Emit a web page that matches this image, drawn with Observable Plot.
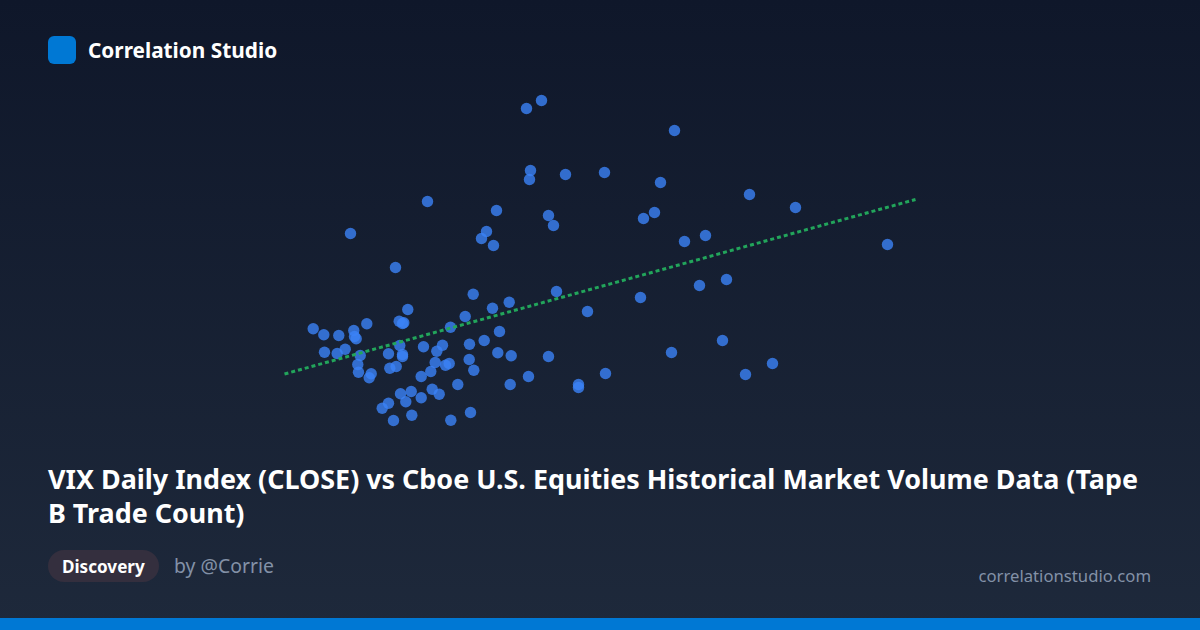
<!DOCTYPE html>
<html><head><meta charset="utf-8">
<script src="https://cdn.jsdelivr.net/npm/d3@7"></script>
<script src="https://cdn.jsdelivr.net/npm/@observablehq/plot@0.6"></script>
<style>
html,body{margin:0;padding:0;width:1200px;height:630px;overflow:hidden}
#card{position:relative;width:1200px;height:630px;background:linear-gradient(180deg,#0f172a 0%,#1e293b 100%);font-family:"Noto Sans",sans-serif;color:#fff}
#chart{position:absolute;left:0;top:0}
#chart svg{display:block;background:transparent}
#logo{position:absolute;left:48px;top:36px;width:28px;height:28px;border-radius:6px;background:#0078d4}
#brand{position:absolute;left:88px;top:36px;line-height:28px;font-size:20.8px;font-weight:700}
#title{position:absolute;left:48px;top:462px;width:1104px;font-size:26.9px;line-height:34px;font-weight:700;margin:0}
#tag{position:absolute;left:48px;top:550px;height:32px;line-height:33px;padding:0 14px;border-radius:16px;background:#342f3e;font-size:17.1px;font-weight:700}
#by{position:absolute;left:174px;top:550px;line-height:32px;font-size:19.4px;color:#8391a7}
#site{position:absolute;right:49px;top:561px;line-height:30px;font-size:16.7px;color:#8391a7}
#bar{position:absolute;left:0;bottom:0;width:1200px;height:12px;background:#0078d4}
</style></head><body>
<div id="card">
<div id="chart"></div>
<div id="logo"></div><div id="brand">Correlation Studio</div>
<h1 id="title">VIX Daily Index (CLOSE) vs Cboe U.S. Equities Historical Market Volume Data (Tape B Trade Count)</h1>
<div id="tag">Discovery</div><div id="by">by @Corrie</div><div id="site">correlationstudio.com</div>
<div id="bar"></div>
</div>
<script>
// Values, in its own units (no axis is shown in the reference)
const xValues = [526,541,674,530,529,565,604,660,427,496,548,553,643,654,749,795,350,486,481,493,684,705,887,395,699,726,640,556,587,
 472.7,508.7,492,407.3,464.7,366.3,312.7,398.7,403.3,402,450,323.3,338.3,353.3,354,355.7,499,483.7,469,442,399.3,423,436.3,324,344.7,336.7,359.7,388,402,402,497.3,510.7,468.7,434.7,448.7,445,357.3,395.7,389.3,473.3,430.3,358,370.7,368.7,420.7,509.7,457.3,431.7,438.7,410.7,400,420.7,405.3,388,381.7,411.3,470,393,450.3,
 528,548,578,578,605,671,722,745,772];
const yValues = [108,100,130,170,179,174,172,182,201,210,215,225,218,212,194,207,233,231,238,245,241,235,244,267,285,279,297,291,311,
 293.7,301.7,307.7,309,316,323.3,328.3,320.7,322.3,323,326.7,334.3,335,330,336,338.3,331,340,343.7,344.7,345,346.3,350.7,351.7,348.7,353,355,353.3,354,356,352.3,355.3,359,362,363,364.7,364,366,367.7,369.7,371,371.7,373.3,377.3,376,384,384,388.7,393.7,391,393.3,397.3,401.3,402.7,407.7,414.7,412,420,419.7,
 376,356,384,387,373,352,340,374,363];
const trendX = [284,915];
const trendY = [373.5,199];
const points = xValues.map((x,i)=>({x,y:yValues[i]}));
const trend = trendX.map((x,i)=>({x,y:trendY[i]}));
const plot = Plot.plot({
  width:1200,height:630,margin:0,
  style:{background:"transparent"},
  x:{domain:[0,1200],axis:null},
  y:{domain:[630,0],axis:null},
  marks:[
    Plot.dot(points,{x:"x",y:"y",r:5.7,fill:"#3b82f6",fillOpacity:0.8,stroke:"none"}),
    Plot.line(trend,{x:"x",y:"y",stroke:"#22a55b",strokeWidth:3,strokeDasharray:"4,3",strokeLinecap:"butt",curve:"linear"})
  ]
});
document.getElementById("chart").appendChild(plot);
</script>
</body></html>
